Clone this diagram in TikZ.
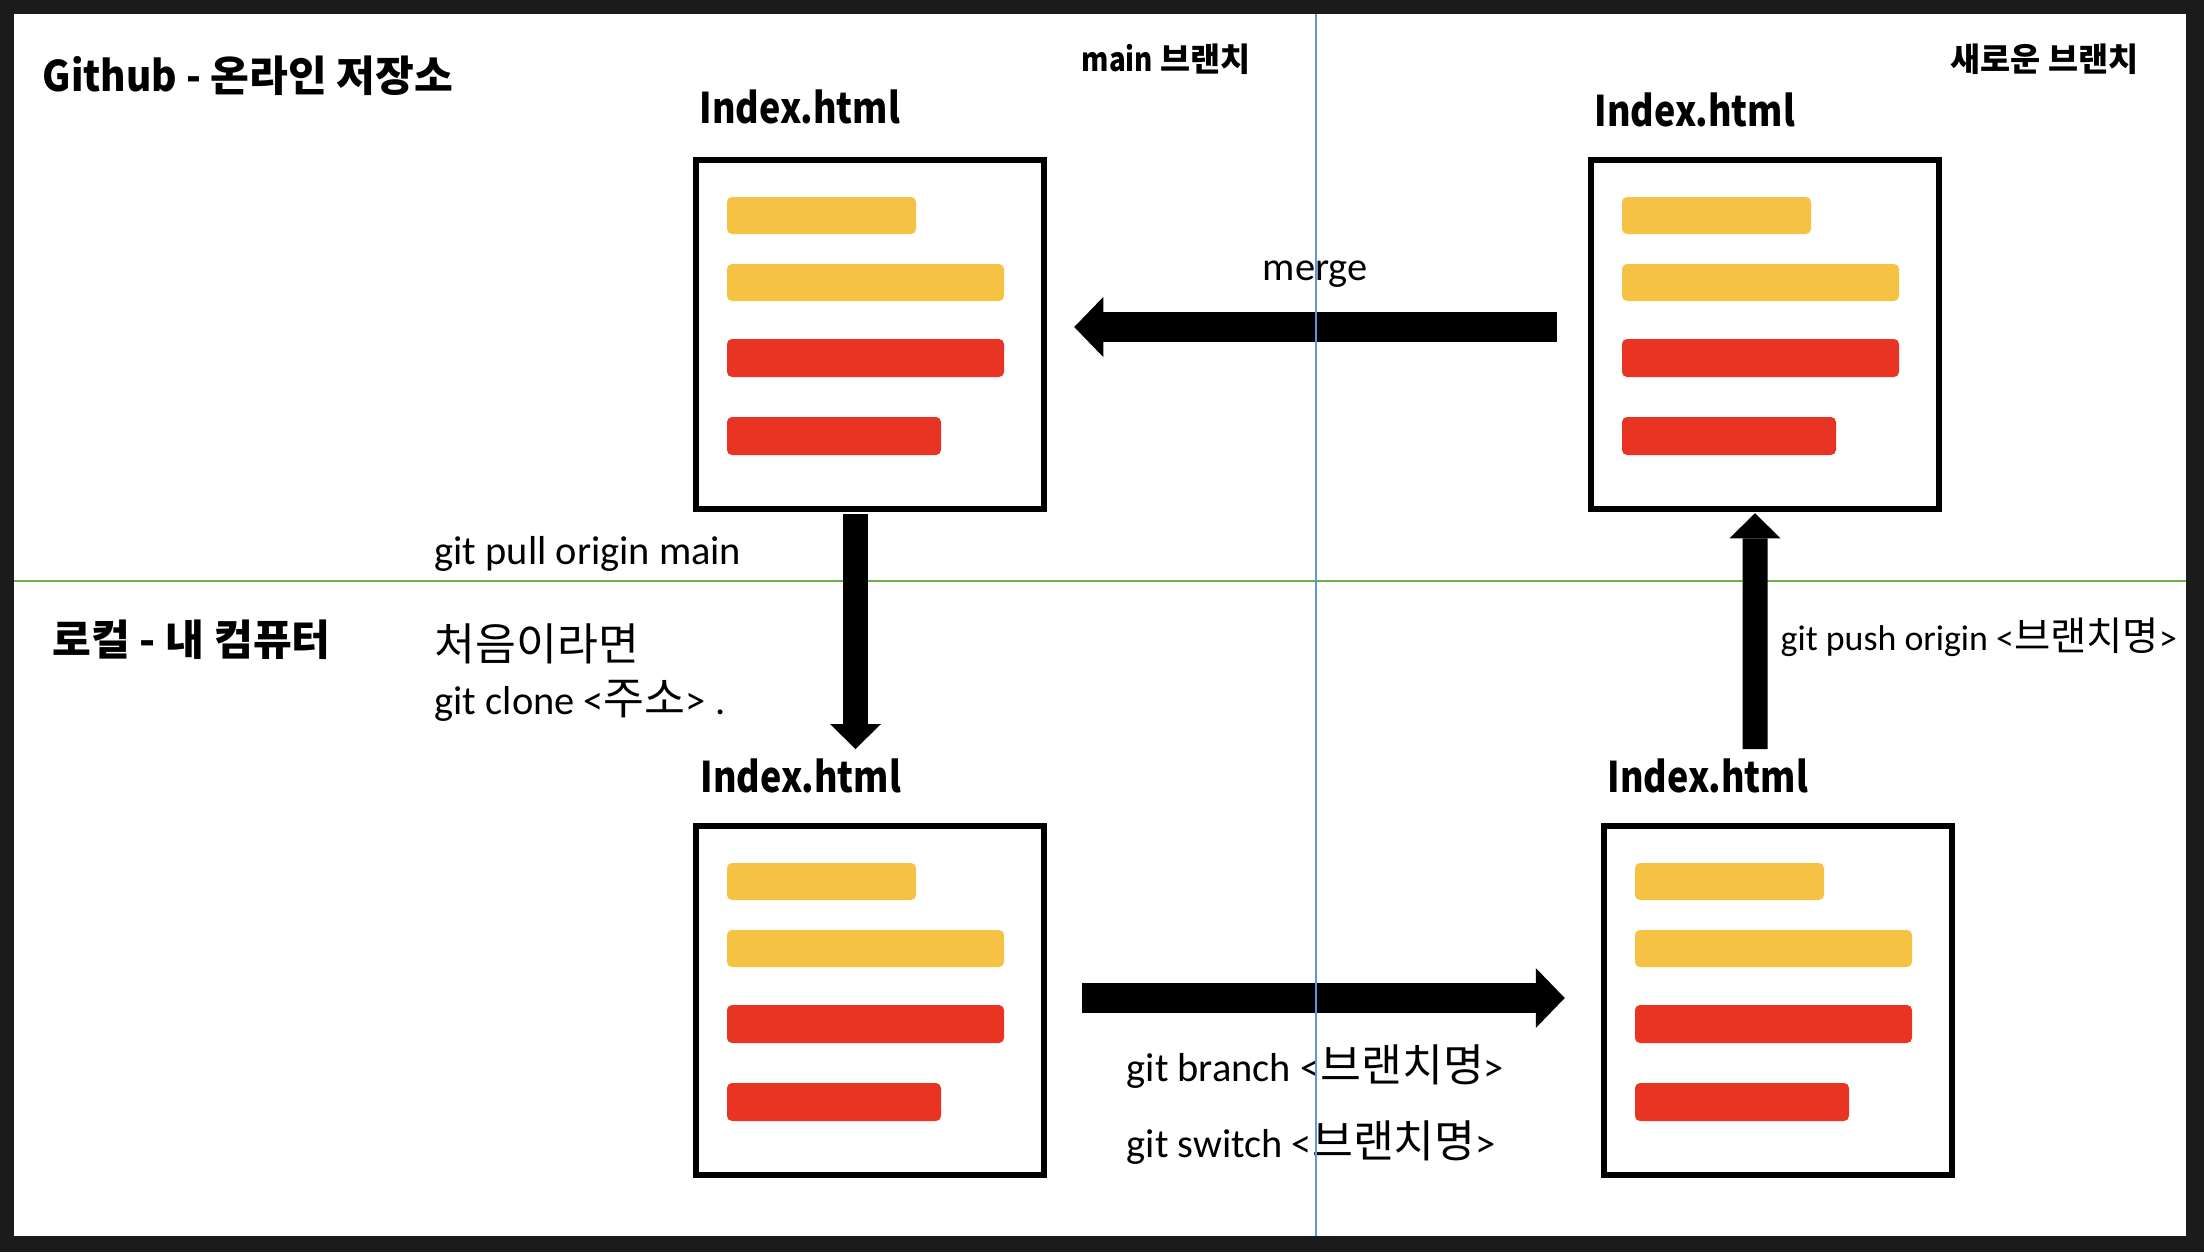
\documentclass[tikz,border=0pt]{standalone}
\usepackage{fontspec}
\setmainfont{Carlito}
\newfontfamily\krfont{Noto Sans CJK KR}
\newfontfamily\krnarrow[FakeStretch=0.85]{Noto Sans CJK KR}
\newfontfamily\krmid[FakeStretch=0.92]{Noto Sans CJK KR}
\newfontfamily\krtext[Scale=1.1]{Noto Sans CJK KR}
\usetikzlibrary{arrows.meta}
\definecolor{FrameGray}{RGB}{27,27,27}
\definecolor{BarYellow}{RGB}{245,194,67}
\definecolor{BarRed}{RGB}{233,52,36}
\definecolor{SplitBlue}{RGB}{91,155,213}
\definecolor{SplitGreen}{RGB}{112,173,71}
\newcommand{\hangul}[1]{{\krtext #1}}
\newcommand{\latinbold}[1]{{\krnarrow #1}}

\begin{document}
\begin{tikzpicture}[
          docbox/.style={draw=black, line width=0.065cm, fill=white,
                         minimum width=3.48cm, minimum height=3.49cm, inner sep=0pt,
                         path picture={
                           \fill[BarYellow, rounded corners=0.05cm]
                             ([shift={(0.31,-0.37)}]path picture bounding box.north west) rectangle ++(1.89,-0.37)
                             ([shift={(0.31,-1.04)}]path picture bounding box.north west) rectangle ++(2.77,-0.37);
                           \fill[BarRed, rounded corners=0.05cm]
                             ([shift={(0.31,-1.79)}]path picture bounding box.north west) rectangle ++(2.77,-0.38)
                             ([shift={(0.31,-2.57)}]path picture bounding box.north west) rectangle ++(2.14,-0.38);
                         }},
          area/.style={font=\krfont\bfseries\fontsize{12}{14}\selectfont, anchor=west, inner sep=0pt},
          fname/.style={font=\krnarrow\bfseries\fontsize{12}{14}\selectfont, anchor=west, inner sep=0pt},
          branchlbl/.style={font=\krfont\bfseries\fontsize{9.3}{11}\selectfont, anchor=west, inner sep=0pt},
          cmd/.style={font=\fontsize{11.5}{15.4}\selectfont, anchor=west, inner sep=0pt, align=left},
          hblock/.style={line width=0.3cm, -{Triangle[length=0.29cm, width=0.6cm, line width=0pt]}},
          vblock/.style={line width=0.25cm, -{Triangle[length=0.25cm, width=0.51cm, line width=0pt]}}
        ]
        % Frame
        \fill[FrameGray] (0,0) rectangle (22.04,-12.52);
        \fill[white] (0.14,-0.14) rectangle (21.86,-12.36);
        \useasboundingbox (0,0) rectangle (22.04,-12.52);
        \draw[SplitGreen, line width=0.02cm] (0.14,-5.805) -- (21.86,-5.805);

        % Areas and branches
        \node[area] (ghTitle) at (0.42,-0.76) {{\krmid Github -} 온라인 저장소};
        \node[area] (localTitle) at (0.52,-6.40) {로컬 - 내 컴퓨터};
        \node[branchlbl] (mainBr) at (10.81,-0.59) {\latinbold{main} 브랜치};
        \node[branchlbl] (newBr) at (19.50,-0.59) {새로운 브랜치};

        % Files
        \node[docbox] (mainGH) at (8.70,-3.345) {};
        \node[docbox] (newGH) at (17.65,-3.345) {};
        \node[docbox] (mainLocal) at (8.70,-10.005) {};
        \node[docbox] (newLocal) at (17.78,-10.005) {};
        \node[fname] (mainGHName) at (6.99,-1.07) {Index.html};
        \node[fname] (newGHName) at (15.94,-1.10) {Index.html};
        \node[fname] (mainLocalName) at (7.00,-7.76) {Index.html};
        \node[fname] (newLocalName) at (16.07,-7.76) {Index.html};

        % Commands
        \node[cmd] (mergeCmd) at (12.62,-2.74) {merge};
        \node[cmd] (pullCmd) at (4.34,-5.54) {git pull origin main};
        \node[cmd] (cloneCmd) at (4.34,-6.73) {\hangul{처음이라면}\\git clone <\hangul{주소}> .};
        \node[cmd, font=\fontsize{10.2}{12}\selectfont] (pushCmd) at (17.80,-6.37) {git push origin <\hangul{브랜치명}>};
        \node[cmd] (branchCmd) at (11.26,-10.67) {git branch <\hangul{브랜치명}>};
        \node[cmd] (switchCmd) at (11.26,-11.43) {git switch <\hangul{브랜치명}>};

        % Arrows
        \coordinate (pullEnd) at (8.555,-7.49);
        \coordinate (pushStart) at (17.55,-7.49);
        \draw[hblock] ([xshift=-0.31cm,yshift=0.075cm]newGH.west) -- ([xshift=0.27cm,yshift=0.075cm]mainGH.east);
        \draw[vblock] ([xshift=-0.145cm,yshift=-0.02cm]mainGH.south) -- (pullEnd);
        \draw[vblock] (pushStart) -- ([xshift=-0.10cm,yshift=-0.01cm]newGH.south);
        \draw[hblock] ([xshift=0.35cm,yshift=0.025cm]mainLocal.east) -- ([xshift=-0.36cm,yshift=0.025cm]newLocal.west);

        \draw[SplitBlue, line width=0.02cm] (13.16,-0.14) -- (13.16,-12.36);
      \end{tikzpicture}
\end{document}
